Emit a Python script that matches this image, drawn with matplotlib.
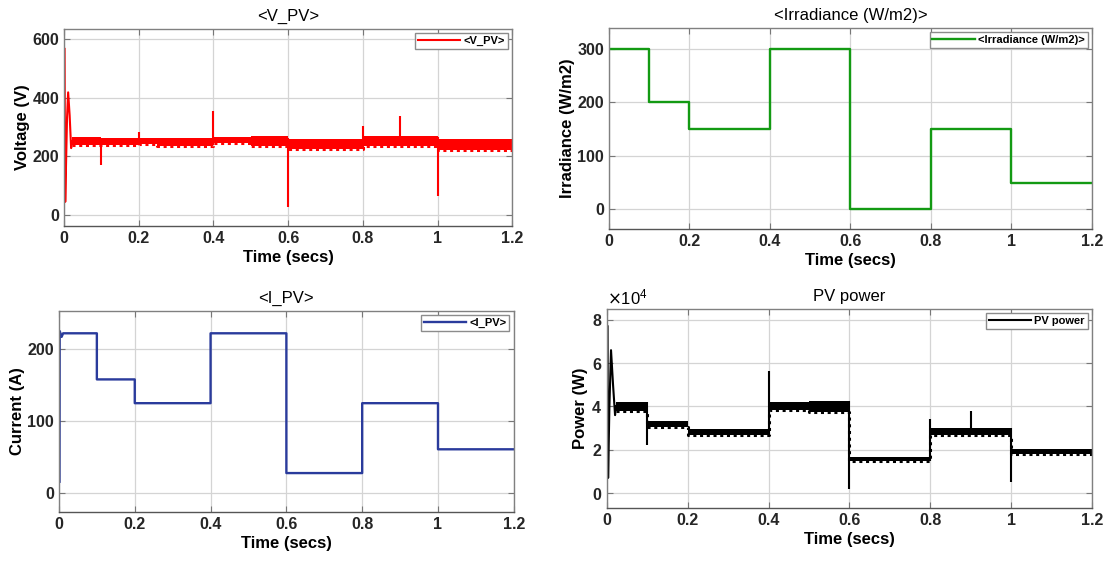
import numpy as np
import matplotlib
matplotlib.use("Agg")
import matplotlib.pyplot as plt

plt.rcParams["font.family"] = ["Liberation Sans", "DejaVu Sans"]

# x ticks shared by all panels
x_ticks = [0, 0.2, 0.4, 0.6, 0.8, 1.0, 1.2]
x_tick_labels = ["0", "0.2", "0.4", "0.6", "0.8", "1", "1.2"]

# --- V_PV (V) ---
# start-up transient
v_start_t = [0.0015, 0.0022, 0.0032, 0.008, 0.011, 0.015, 0.019, 0.022]
v_start = [566, 300, 45, 330, 418, 340, 228, 250]
# ripple band (segment edges, low / high envelope)
v_seg_t = [0.022, 0.1, 0.2, 0.25, 0.4, 0.5, 0.6, 0.8, 1.0, 1.2]
v_lo = [238, 240, 242, 235, 244, 235, 226, 235, 221]
v_hi = [265, 262, 262, 263, 265, 269, 260, 269, 260]
# spikes at the switching instants
v_spike_t = [0.1, 0.2, 0.4, 0.6, 0.8, 0.9, 1.0]
v_spike_lo = [170, 240, 240, 28, 230, 240, 65]
v_spike_hi = [262, 284, 356, 262, 305, 339, 265]

# --- Irradiance (W/m2) ---
g_t = [0, 0.1, 0.2, 0.4, 0.6, 0.8, 1.0, 1.2]
g_val = [300, 200, 150, 300, 0, 150, 50, 50]

# --- I_PV (A) ---
i_t = [0.0015, 0.002, 0.004, 0.007, 0.011, 0.1, 0.1, 0.2, 0.2, 0.4, 0.4,
       0.6, 0.6, 0.8, 0.8, 1.0, 1.0, 1.2]
i_val = [16, 225, 222, 217, 222, 222, 158, 158, 125, 125, 222,
         222, 28, 28, 125, 125, 61, 61]

# --- PV power (W) ---
p_start_t = [0.0015, 0.002, 0.0028, 0.006, 0.010, 0.015, 0.02, 0.022]
p_start = [77000, 40000, 7000, 40000, 66000, 50000, 36000, 40000]
p_seg_t = [0.022, 0.1, 0.2, 0.4, 0.5, 0.6, 0.8, 1.0, 1.2]
p_lo = [38000, 30500, 27000, 38500, 37500, 15000, 26800, 18000]
p_hi = [42000, 33500, 29500, 42000, 42500, 16500, 30000, 20500]
p_spike_t = [0.1, 0.4, 0.6, 0.8, 0.9, 1.0]
p_spike_lo = [22000, 27000, 1700, 15000, 28000, 5000]
p_spike_hi = [42000, 56500, 42500, 34000, 37800, 30000]

fig = plt.figure(figsize=(11.04, 5.62), dpi=100)
ax1 = fig.add_axes([0.058, 0.598, 0.406, 0.3505])
ax2 = fig.add_axes([0.5516, 0.5925, 0.4375, 0.3577])
ax3 = fig.add_axes([0.0534, 0.089, 0.412, 0.3577])
ax4 = fig.add_axes([0.5498, 0.0961, 0.4393, 0.354])


def style_axes(ax, title, ylabel, yticks, ylim):
    ax.set_xlim(0, 1.2)
    ax.set_ylim(*ylim)
    ax.set_xticks(x_ticks, x_tick_labels)
    ax.set_yticks(yticks)
    ax.set_title(title, fontsize=12, pad=6)
    ax.set_xlabel("Time (secs)", fontsize=12, fontweight="bold", labelpad=3)
    ax.set_ylabel(ylabel, fontsize=12, fontweight="bold", labelpad=2)
    ax.grid(True, color="#d4d4d4", linewidth=0.9)
    ax.set_axisbelow(True)
    ax.tick_params(direction="in", length=4, top=True, right=True,
                   labelsize=11.5, color="#777777")
    for lbl in ax.get_xticklabels() + ax.get_yticklabels():
        lbl.set_fontweight("bold")
        lbl.set_color("#262626")
    for sp in ax.spines.values():
        sp.set_color("#808080")
        sp.set_linewidth(1.0)
    ax.spines["bottom"].set_color("#555555")
    ax.legend(loc="upper right", prop={"weight": "bold", "size": 8},
              fancybox=False, edgecolor="#8c8c8c", framealpha=1,
              handlelength=3.8, handletextpad=0.3, borderpad=0.25,
              borderaxespad=0.4)


def ripple_band(ax, seg_t, lo, hi, color):
    # solid band plus a dotted lower edge to mimic the switching ripple
    ax.fill_between(seg_t, lo + [lo[-1]], hi + [hi[-1]], step="post",
                    color=color, linewidth=0)
    ax.step(seg_t, lo + [lo[-1]], where="post", color=color, lw=2.2,
            linestyle=(0, (1.0, 1.2)))


# V_PV
red = "#ff0000"
ax1.plot(v_start_t, v_start, color=red, lw=1.5, label="<V_PV>")
ripple_band(ax1, v_seg_t, v_lo, v_hi, red)
ax1.vlines(v_spike_t, v_spike_lo, v_spike_hi, color=red, lw=1.5)
style_axes(ax1, "<V_PV>", "Voltage (V)", [0, 200, 400, 600], (-37, 634))

# Irradiance
green = "#139a13"
ax2.plot(g_t, g_val, color=green, lw=1.7, drawstyle="steps-post",
         label="<Irradiance (W/m2)>")
style_axes(ax2, "<Irradiance (W/m2)>", "Irradiance (W/m2)", [0, 100, 200, 300],
           (-37, 339))

# I_PV
blue = "#2a3b9c"
ax3.plot(i_t, i_val, color=blue, lw=1.7, label="<I_PV>")
style_axes(ax3, "<I_PV>", "Current (A)", [0, 100, 200], (-26, 253))

# PV power
ax4.plot(p_start_t, p_start, color="black", lw=1.5, label="PV power")
ripple_band(ax4, p_seg_t, p_lo, p_hi, "black")
ax4.vlines(p_spike_t, p_spike_lo, p_spike_hi, color="black", lw=1.5)
style_axes(ax4, "PV power", "Power (W)", [0, 20000, 40000, 60000, 80000],
           (-6900, 85000))
ax4.ticklabel_format(axis="y", style="sci", scilimits=(4, 4), useMathText=True)
ax4.yaxis.get_offset_text().set_fontsize(12)
for lbl in ax4.get_yticklabels():
    lbl.set_fontweight("bold")

fig.savefig("out.png", dpi=100)
